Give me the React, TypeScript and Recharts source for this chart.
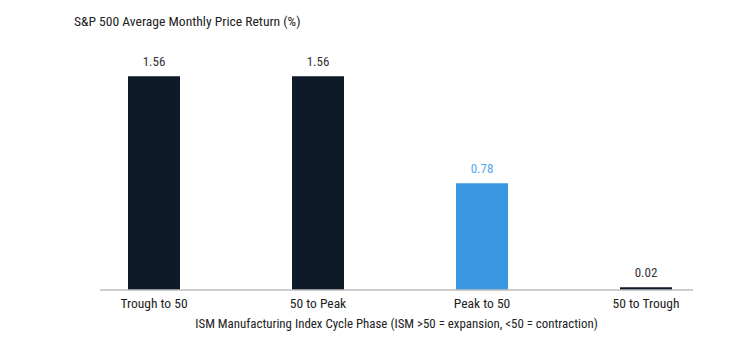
import { BarChart, Bar, XAxis, YAxis, Cell, LabelList } from 'recharts';

const phases = ['Trough to 50', '50 to Peak', 'Peak to 50', '50 to Trough'];
const returns = [1.56, 1.56, 0.78, 0.02];
const barColors = ['#0f1a28', '#0f1a28', '#3a98e0', '#0f1a28'];
const labelColors = ['#333333', '#333333', '#5aa8e8', '#333333'];

const FONT = '"Liberation Sans Narrow", "Arial Narrow", "Roboto Condensed", Roboto, sans-serif';

const data = phases.map((phase, i) => ({ phase, value: returns[i] }));

function ValueLabel(props: any) {
  const { x, y, width, value, index } = props;
  return (
    <text
      x={x + width / 2}
      y={y - 10}
      textAnchor="middle"
      fontSize={13}
      fontFamily={FONT}
      fill={labelColors[index]}
    >
      {value.toFixed(2)}
    </text>
  );
}

export default function App() {
  return (
    <div style={{ position: 'absolute', left: 0, top: 0, width: 756, height: 355, background: '#fff' }}>
      <div
        style={{
          position: 'absolute', left: 74, top: 13, fontSize: 13.6, color: '#222',
          fontFamily: FONT, whiteSpace: 'nowrap',
        }}
      >
        S&amp;P 500 Average Monthly Price Return (%)
      </div>
      <BarChart
        width={756}
        height={355}
        data={data}
        margin={{ top: 16, right: 63, bottom: 25, left: 100 }}
        barSize={52}
      >
        <XAxis
          dataKey="phase"
          padding={{ left: -28, right: -35 }}
          tickLine={false}
          axisLine={{ stroke: '#bdbdbd', strokeWidth: 1.5 }}
          tick={{ fontSize: 13.5, fill: '#222', fontFamily: FONT }}
          height={40}
          label={{
            value: 'ISM Manufacturing Index Cycle Phase (ISM >50 = expansion, <50 = contraction)',
            position: 'insideBottom',
            offset: 2,
            fontSize: 12.9,
            fill: '#222',
            fontFamily: FONT,
          }}
        />
        <YAxis hide domain={[0, 2]} />
        <Bar dataKey="value" isAnimationActive={false}>
          {data.map((d, i) => (
            <Cell key={d.phase} fill={barColors[i]} />
          ))}
          <LabelList dataKey="value" content={<ValueLabel />} />
        </Bar>
      </BarChart>
    </div>
  );
}
